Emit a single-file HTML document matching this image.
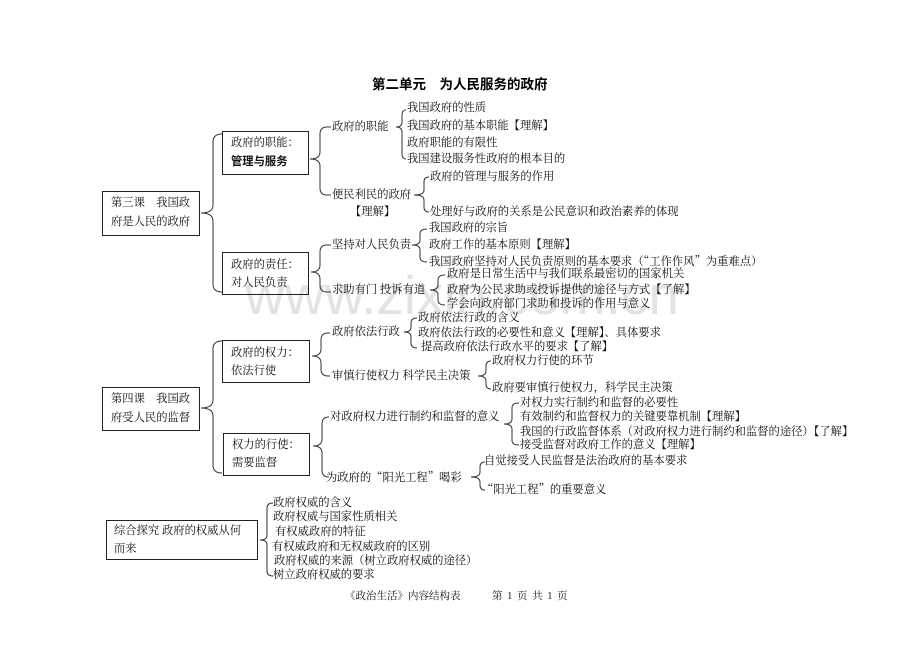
<!DOCTYPE html>
<html>
<head>
<meta charset="utf-8">
<style>
  html,body{margin:0;padding:0;background:#fff;}
  #page{position:relative;width:920px;height:651px;overflow:hidden;background:#fff;
    font-family:"Liberation Serif","Noto Serif CJK SC",serif;font-size:11.3px;color:#111;}
  .t{position:absolute;white-space:nowrap;line-height:14px;height:14px;}
  .box{position:absolute;border:1px solid #222;box-sizing:border-box;background:transparent;}
  .bt{position:absolute;white-space:nowrap;line-height:14px;}
  .sans{font-family:"Liberation Sans","Noto Sans CJK SC",sans-serif;}
  .q{font-family:"Noto Serif CJK SC",serif;}
  #wm{position:absolute;left:245px;top:262px;font-family:"Liberation Sans",sans-serif;font-size:55px;
    color:#e3e3e3;white-space:nowrap;line-height:66px;}
  svg{position:absolute;left:0;top:0;}
</style>
</head>
<body>
<div id="page">
  <div id="wm">www.zixin.com.cn</div>

  <svg width="920" height="651" viewBox="0 0 920 651">
    <g fill="none" stroke="#333" stroke-width="1">
      <path d="M222,134 Q213,134 213,142 L213,205 Q213,213 201,213 Q213,213 213,221 L213,284 Q213,292 222,292"/>
      <path d="M331,127 L327,127 Q320,127 320,134 L320,152 Q320,159 310,159 Q320,159 320,166 L320,188 Q320,195 327,195 L331,195"/>
      <path d="M406,110 Q402,110 402,115 L402,122 Q402,127 396,127 Q402,127 402,132 L402,154 Q402,159 406,159"/>
      <path d="M429,177 Q424,177 424,182 L424,190 Q424,195 414,195 Q424,195 424,200 L424,207 Q424,212 429,212"/>
      <path d="M331,245 L327,245 Q320,245 320,252 L320,265 Q320,272 311,272 Q320,272 320,279 L320,285 Q320,292 327,292 L331,292"/>
      <path d="M427,229 Q420,229 420,234 L420,240 Q420,245 412,245 Q420,245 420,250 L420,257 Q420,262 427,262"/>
      <path d="M445,275 Q438,275 438,280 L438,285 Q438,290 430,290 Q438,290 438,295 L438,300 Q438,305 445,305"/>
      <path d="M222,341 Q213,341 213,349 L213,400 Q213,408 201,408 Q213,408 213,416 L213,465 Q213,473 222,473"/>
      <path d="M330,333 L328,333 Q321,333 321,340 L321,349 Q321,356 312,356 Q321,356 321,363 L321,369 Q321,376 328,376 L330,376"/>
      <path d="M417,318 Q411,318 411,323 L411,327 Q411,332 404,332 Q411,332 411,337 L411,343 Q411,348 417,348"/>
      <path d="M491,361 Q486,361 486,366 L486,371 Q486,376 478,376 Q486,376 486,381 L486,384 Q486,389 491,389"/>
      <path d="M329,417 Q322,417 322,424 L322,439 Q322,446 313,446 Q322,446 322,453 L322,470 Q322,477 329,477"/>
      <path d="M519,403 Q512,403 512,408 L512,419 Q512,424 504,424 Q512,424 512,429 L512,440 Q512,445 519,445"/>
      <path d="M485,462 Q480,462 480,467 L480,472 Q480,477 471,477 Q480,477 480,482 L480,485 Q480,490 485,490"/>
      <path d="M273,503 Q267,503 267,508 L267,535 Q267,540 260,540 Q267,540 267,545 L267,571 Q267,576 273,576"/>
    </g>
  </svg>

  <div class="t sans" style="left:372px;top:77px;font-size:13.5px;font-weight:bold;line-height:16px;height:16px;color:#000;">第二单元　为人民服务的政府</div>

  <div class="box" style="left:102px;top:191px;width:98px;height:45px;"></div>
  <div class="bt" style="left:111px;top:196px;">第三课　我国政</div>
  <div class="bt" style="left:111px;top:215px;">府是人民的政府</div>

  <div class="box" style="left:222px;top:131px;width:87px;height:44px;"></div>
  <div class="bt" style="left:231px;top:136px;">政府的职能：</div>
  <div class="bt sans" style="left:231px;top:155px;font-weight:bold;">管理与服务</div>

  <div class="box" style="left:222px;top:252px;width:87px;height:43px;"></div>
  <div class="bt" style="left:231px;top:258px;">政府的责任：</div>
  <div class="bt" style="left:231px;top:276px;">对人民负责</div>

  <div class="box" style="left:102px;top:387px;width:98px;height:44px;"></div>
  <div class="bt" style="left:111px;top:392px;">第四课　我国政</div>
  <div class="bt" style="left:111px;top:411px;">府受人民的监督</div>

  <div class="box" style="left:222px;top:340px;width:88px;height:43px;"></div>
  <div class="bt" style="left:231px;top:346px;">政府的权力：</div>
  <div class="bt" style="left:231px;top:364px;">依法行使</div>

  <div class="box" style="left:223px;top:433px;width:87px;height:43px;"></div>
  <div class="bt" style="left:232px;top:438px;">权力的行使：</div>
  <div class="bt" style="left:232px;top:456px;">需要监督</div>

  <div class="box" style="left:106px;top:520px;width:152px;height:40px;"></div>
  <div class="bt" style="left:114px;top:524px;">综合探究 政府的权威从何</div>
  <div class="bt" style="left:114px;top:542px;">而来</div>

  <div class="t" style="left:332px;top:120px;">政府的职能</div>
  <div class="t" style="left:407px;top:101px;">我国政府的性质</div>
  <div class="t" style="left:407px;top:119px;">我国政府的基本职能【理解】</div>
  <div class="t" style="left:407px;top:136px;">政府职能的有限性</div>
  <div class="t" style="left:407px;top:152px;">我国建设服务性政府的根本目的</div>

  <div class="t" style="left:332px;top:188px;">便民利民的政府</div>
  <div class="t" style="left:350px;top:205px;">【理解】</div>
  <div class="t" style="left:430px;top:170px;">政府的管理与服务的作用</div>
  <div class="t" style="left:430px;top:205px;">处理好与政府的关系是公民意识和政治素养的体现</div>

  <div class="t" style="left:332px;top:238px;">坚持对人民负责</div>
  <div class="t" style="left:429px;top:221px;">我国政府的宗旨</div>
  <div class="t" style="left:429px;top:238px;">政府工作的基本原则【理解】</div>
  <div class="t" style="left:429px;top:254px;">我国政府坚持对人民负责原则的基本要求（<span class="q">“</span>工作作风<span class="q">”</span>为重难点）</div>

  <div class="t" style="left:332px;top:283px;">求助有门 投诉有道</div>
  <div class="t" style="left:447px;top:267px;">政府是日常生活中与我们联系最密切的国家机关</div>
  <div class="t" style="left:447px;top:283px;">政府为公民求助或投诉提供的途径与方式【了解】</div>
  <div class="t" style="left:447px;top:297px;">学会向政府部门求助和投诉的作用与意义</div>

  <div class="t" style="left:332px;top:325px;">政府依法行政</div>
  <div class="t" style="left:418px;top:311px;">政府依法行政的含义</div>
  <div class="t" style="left:418px;top:326px;">政府依法行政的必要性和意义【理解】、具体要求</div>
  <div class="t" style="left:421px;top:340px;">提高政府依法行政水平的要求【了解】</div>

  <div class="t" style="left:332px;top:369px;">审慎行使权力 科学民主决策</div>
  <div class="t" style="left:492px;top:354px;">政府权力行使的环节</div>
  <div class="t" style="left:492px;top:381px;">政府要审慎行使权力，科学民主决策</div>

  <div class="t" style="left:330px;top:410px;">对政府权力进行制约和监督的意义</div>
  <div class="t" style="left:520px;top:396px;">对权力实行制约和监督的必要性</div>
  <div class="t" style="left:520px;top:410px;">有效制约和监督权力的关键要靠机制【理解】</div>
  <div class="t" style="left:520px;top:425px;">我国的行政监督体系（对政府权力进行制约和监督的途径）【了解】</div>
  <div class="t" style="left:520px;top:438px;">接受监督对政府工作的意义【理解】</div>

  <div class="t" style="left:326px;top:470px;">为政府的<span class="q">“</span>阳光工程<span class="q">”</span>喝彩</div>
  <div class="t" style="left:484px;top:454px;">自觉接受人民监督是法治政府的基本要求</div>
  <div class="t" style="left:482px;top:482px;"><span class="q">“</span>阳光工程<span class="q">”</span>的重要意义</div>

  <div class="t" style="left:273px;top:496px;">政府权威的含义</div>
  <div class="t" style="left:273px;top:510px;">政府权威与国家性质相关</div>
  <div class="t" style="left:275px;top:525px;">有权威政府的特征</div>
  <div class="t" style="left:272px;top:540px;">有权威政府和无权威政府的区别</div>
  <div class="t" style="left:274px;top:554px;">政府权威的来源（树立政府权威的途径）</div>
  <div class="t" style="left:273px;top:568px;">树立政府权威的要求</div>

  <div class="t" style="left:345px;top:590px;font-size:10.5px;">《政治生活》内容结构表</div>
  <div class="t" style="left:492px;top:590px;font-size:10.5px;word-spacing:2px;">第 1 页 共 1 页</div>
</div>
</body>
</html>
